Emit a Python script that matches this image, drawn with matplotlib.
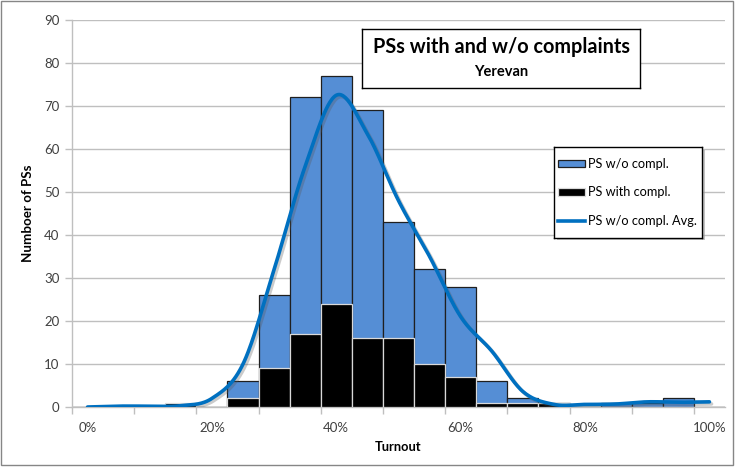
import numpy as np
import matplotlib
matplotlib.use("Agg")
import matplotlib.pyplot as plt
from matplotlib.patches import Rectangle, Patch
from matplotlib.lines import Line2D
import matplotlib.patheffects as pe

# ---------------- data ----------------
turnout = list(range(0, 101, 5))
tick_labels = ["0%", "20%", "40%", "60%", "80%", "100%"]
ps_without = [0, 0, 0, 0, 0, 6, 26, 72, 77, 69, 43, 32, 28, 6, 2, 1, 0, 1, 1, 2, 0]
ps_with = [0, 0, 0, 1, 0, 2, 9, 17, 24, 16, 16, 10, 7, 1, 1, 1, 0, 0, 0, 0, 0]
avg_without = [0, 0.2, 0.2, 0.3, 2.0, 10, 32, 56, 72.5, 63.5, 48, 35, 21, 13, 3.6,
               0.6, 0.6, 0.7, 1.2, 1.1, 1.2]

W, H = 735, 468
FONT = "Lato"
plt.rcParams["font.family"] = [FONT, "DejaVu Sans"]

fig = plt.figure(figsize=(W / 100, H / 100), dpi=100)


def fx(px):
    return px / W


def fy(py):
    return 1 - py / H


# plot area
L, R, T, B = 72, 725, 20, 407
ax = fig.add_axes([fx(L), fy(B), fx(R - L), (B - T) / H])

x = np.arange(len(turnout))
ax.bar(x, ps_without, width=1.0, color="#558ED5", edgecolor="#1F1F1F",
       linewidth=0.9, zorder=2)
ax.bar(x, ps_with, width=1.0, color="#000000", edgecolor="#D9D9D9",
       linewidth=0.9, zorder=3)


def catmull_rom(xs, ys, n=30):
    xs = np.asarray(xs, float)
    ys = np.asarray(ys, float)
    px = np.concatenate([[xs[0]], xs, [xs[-1]]])
    py = np.concatenate([[ys[0]], ys, [ys[-1]]])
    outx, outy = [], []
    for i in range(1, len(px) - 2):
        t = np.linspace(0, 1, n, endpoint=(i == len(px) - 3))
        mx0 = (px[i + 1] - px[i - 1]) / 2
        mx1 = (px[i + 2] - px[i]) / 2
        my0 = (py[i + 1] - py[i - 1]) / 2
        my1 = (py[i + 2] - py[i]) / 2
        h00 = 2 * t**3 - 3 * t**2 + 1
        h10 = t**3 - 2 * t**2 + t
        h01 = -2 * t**3 + 3 * t**2
        h11 = t**3 - t**2
        outx.append(h00 * px[i] + h10 * mx0 + h01 * px[i + 1] + h11 * mx1)
        outy.append(h00 * py[i] + h10 * my0 + h01 * py[i + 1] + h11 * my1)
    return np.concatenate(outx), np.concatenate(outy)


sx, sy = catmull_rom(x, avg_without)
ax.plot(sx, sy, color="#0070C0", linewidth=2.6, solid_capstyle="round", zorder=4,
        path_effects=[pe.SimpleLineShadow(offset=(1.5, -1.5), shadow_color="#555555", alpha=0.3),
                      pe.Normal()])

ax.set_xlim(-0.5, len(turnout) - 0.5)
ax.set_ylim(0, 90)
ax.set_yticks(range(0, 91, 10))
ax.yaxis.grid(True, color="#BFBFBF", linewidth=1.0, zorder=0)
ax.set_axisbelow(True)

label_pos = [turnout.index(int(t.rstrip("%"))) for t in tick_labels]
ax.set_xticks(label_pos)
ax.set_xticklabels(tick_labels)
ax.set_xticks(np.arange(-0.5, len(turnout), 2), minor=True)
ax.tick_params(axis="x", which="major", length=0, pad=11, labelsize=9.5,
               labelcolor="#404040")
ax.tick_params(axis="x", which="minor", length=5, color="#BFBFBF", width=1)
ax.tick_params(axis="y", length=5, color="#BFBFBF", width=1, pad=4,
               labelsize=9.5, labelcolor="#404040")

for s in ["top", "right"]:
    ax.spines[s].set_visible(False)
for s in ["left", "bottom"]:
    ax.spines[s].set_color("#BFBFBF")
    ax.spines[s].set_linewidth(1)

ax.set_xlabel("Turnout", fontsize=9.3, fontweight="bold", labelpad=5)
ax.set_ylabel("Numboer of PSs", fontsize=9.6, fontweight="bold", labelpad=7)

# ---------------- title box ----------------
tx0, ty0, tx1, ty1 = 362, 29, 640, 88
tax = fig.add_axes([fx(tx0), fy(ty1), fx(tx1 - tx0), (ty1 - ty0) / H], zorder=5)
tax.set_xticks([])
tax.set_yticks([])
for s in tax.spines.values():
    s.set_color("#000000")
    s.set_linewidth(1)
tax.set_facecolor("white")
tax.text(0.5, 1 - (47 - ty0) / (ty1 - ty0), "PSs with and w/o complaints",
         ha="center", va="center", fontsize=14.3, fontweight="bold",
         transform=tax.transAxes)
tax.text(0.5, 1 - (72 - ty0) / (ty1 - ty0), "Yerevan", ha="center", va="center",
         fontsize=10.5, fontweight="bold", transform=tax.transAxes)

# ---------------- legend box ----------------
lx0, ly0, lx1, ly1 = 554, 147, 702, 238
fig.patches.append(Rectangle((fx(lx0 + 2.5), fy(ly1 + 2.5)), fx(lx1 - lx0), (ly1 - ly0) / H,
                             transform=fig.transFigure, facecolor="#9a9a9a",
                             edgecolor="none", alpha=0.6, zorder=4))
lax = fig.add_axes([fx(lx0), fy(ly1), fx(lx1 - lx0), (ly1 - ly0) / H], zorder=5)
lax.set_xticks([])
lax.set_yticks([])
lax.set_facecolor("white")
for s in lax.spines.values():
    s.set_color("#000000")
    s.set_linewidth(1)
handles = [
    Patch(facecolor="#558ED5", edgecolor="#1F1F1F", linewidth=0.9),
    Patch(facecolor="#000000", edgecolor="#D9D9D9", linewidth=0.9),
    Line2D([], [], color="#0070C0", linewidth=2.6),
]
labels = ["PS w/o compl.", "PS with compl.", "PS w/o compl. Avg."]
lax.legend(handles, labels, loc="center left", bbox_to_anchor=(0.0, 0.5),
           frameon=False, fontsize=9.2, labelspacing=1.3, handlelength=2.1,
           handleheight=0.5, handletextpad=0.3, borderaxespad=0.3, borderpad=0.0)

# ---------------- outer border ----------------
fig.patches.append(Rectangle((fx(1), fy(465)), fx(732), 464 / H, transform=fig.transFigure,
                             facecolor="none", edgecolor="#868686", linewidth=1, zorder=10))

fig.savefig("out.png", dpi=100)
